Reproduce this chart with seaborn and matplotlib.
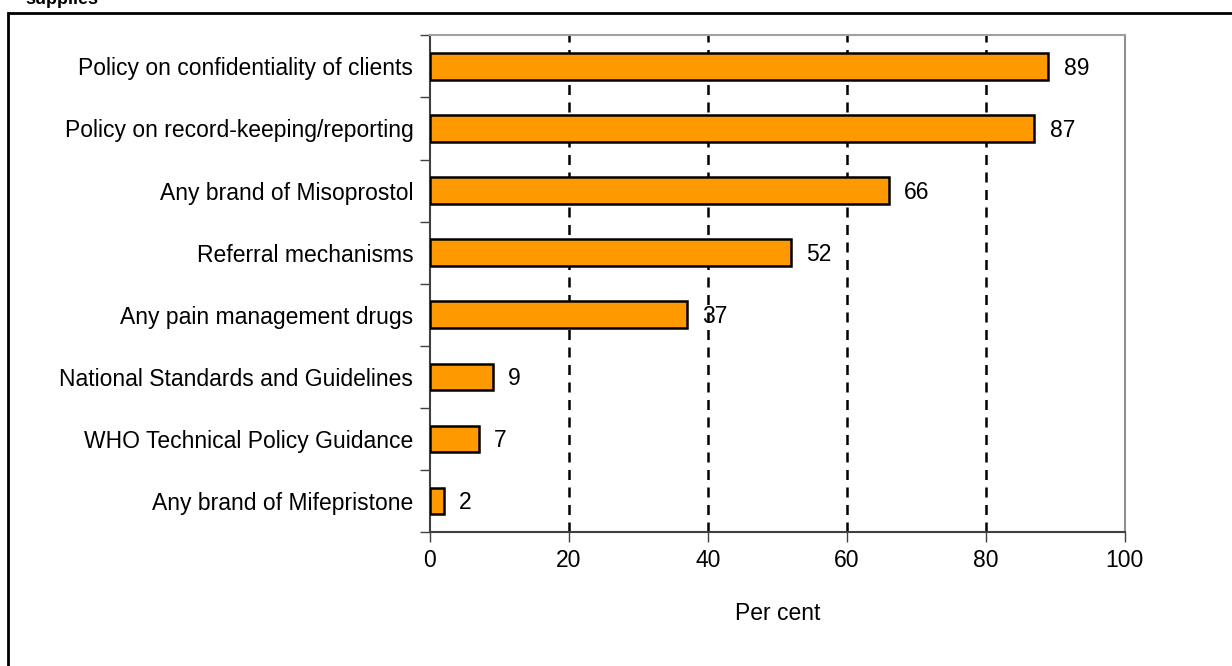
import matplotlib
matplotlib.use("Agg")
import matplotlib.pyplot as plt
import matplotlib.patches as mpatches
import seaborn as sns
import pandas as pd
import numpy as np

# === Veriler
categories = [
    "Policy on confidentiality of clients",
    "Policy on record-keeping/reporting",
    "Any brand of Misoprostol",
    "Referral mechanisms",
    "Any pain management drugs",
    "National Standards and Guidelines",
    "WHO Technical Policy Guidance",
    "Any brand of Mifepristone",
]
values = [89, 87, 66, 52, 37, 9, 7, 2]
x_ticks = [0, 20, 40, 60, 80, 100]

df = pd.DataFrame({"category": categories, "value": values})

# === Stil
sns.set_style("white")
plt.rcParams["font.family"] = ["Liberation Sans", "DejaVu Sans"]
plt.rcParams["text.color"] = "black"
plt.rcParams["axes.labelcolor"] = "black"
plt.rcParams["xtick.labelcolor"] = "black"
plt.rcParams["ytick.labelcolor"] = "black"

fig = plt.figure(figsize=(12.32, 6.66), dpi=100)
ax = fig.add_axes([0.349, 0.201, 0.564, 0.746])

sns.barplot(
    data=df,
    x="value",
    y="category",
    orient="h",
    color="#FF9900",
    saturation=1,
    width=0.43,
    edgecolor="black",
    linewidth=1.8,
    ax=ax,
    zorder=3,
)

ax.set_xlim(0, 100)
ax.set_ylim(len(categories) - 0.5, -0.5)
ax.set_xticks(x_ticks)
ax.set_xticklabels([str(t) for t in x_ticks], fontsize=16.5)
ax.tick_params(axis="x", direction="out", length=7, width=1, color="#404040", pad=5, bottom=True)

# y ekseni: etiketler ortada, tik çizgileri sınırlarda
ax.set_yticks(range(len(categories)))
ax.set_yticklabels(categories, fontsize=16.5)
ax.tick_params(axis="y", which="major", length=0, pad=12)
ax.set_yticks(np.arange(-0.5, len(categories), 1), minor=True)
ax.tick_params(axis="y", which="minor", direction="out", length=7, width=1, color="#404040", left=True)

ax.set_xlabel("Per cent", fontsize=16.5, labelpad=22)
ax.set_ylabel("")

# dikey kesikli ızgara
for t in x_ticks[1:-1]:
    ax.axvline(t, color="black", linestyle=(0, (4, 3)), linewidth=1.8, zorder=1)

# spine ayarları
ax.spines["left"].set_color("#404040")
ax.spines["left"].set_linewidth(1.5)
ax.spines["bottom"].set_color("#404040")
ax.spines["bottom"].set_linewidth(1.5)
ax.spines["top"].set_color("#a0a0a0")
ax.spines["top"].set_linewidth(1.5)
ax.spines["right"].set_color("#909090")
ax.spines["right"].set_linewidth(1.5)
ax.spines["right"].set_linestyle((0, (3, 1)))

# değer etiketleri
for i, v in enumerate(values):
    ax.text(v + 2.2, i + 0.03, str(v), va="center", ha="left", fontsize=16.5, zorder=4)

# çerçeve ve kesik başlık
frame = mpatches.Rectangle((8 / 1232, -0.1), 1.2, (666 - 13) / 666 + 0.1,
                           transform=fig.transFigure, fill=False,
                           edgecolor="black", linewidth=2, clip_on=False)
fig.patches.append(frame)
fig.text(25 / 1232, 1 - 4 / 666, "supplies", fontsize=13, fontweight="bold", va="baseline", ha="left")

plt.savefig("out.png", dpi=100)
